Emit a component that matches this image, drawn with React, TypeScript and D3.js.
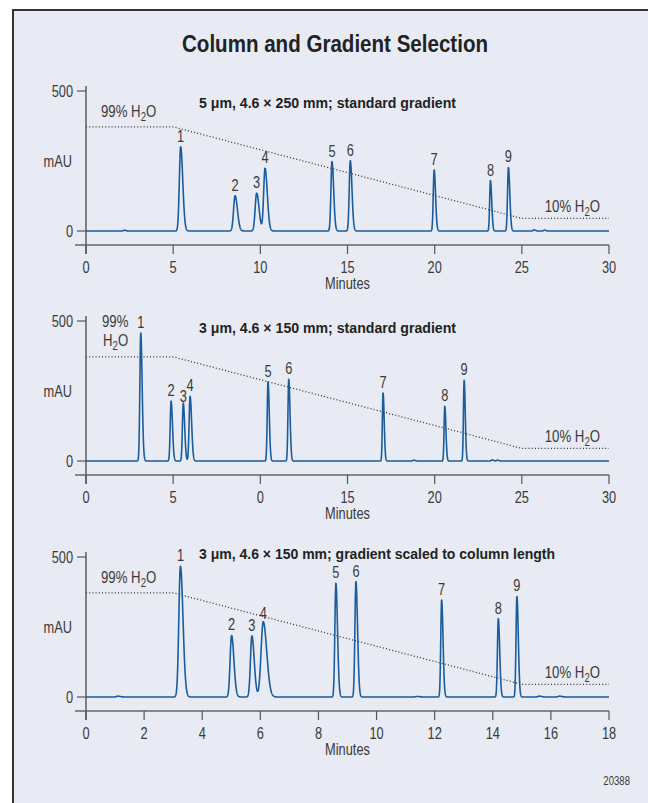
import React from "react";
import * as d3 from "d3";

const W = 648;
const H = 803;
const FONT = "'Liberation Sans', Arial, sans-serif";
const BLUE = "#1b5c9d";
const INK = "#3a3a3a";

const peakNumbers = ["1", "2", "3", "4", "5", "6", "7", "8", "9"];

// panel 1: 5 um, 250 mm, standard gradient
const p1Times = [5.43, 8.55, 9.79, 10.27, 14.11, 15.16, 19.97, 23.2, 24.23];
const p1Heights = [301, 126, 135, 224, 248, 251, 218, 180, 227];
const p1Sigmas = [0.075, 0.085, 0.085, 0.08, 0.06, 0.06, 0.05, 0.045, 0.05];
const p1MinorTimes = [2.2, 25.7, 26.3];
const p1MinorHeights = [3, 4, 3];
const p1GradTimes = [0, 5, 25, 30];
const p1GradH2O = [99, 99, 10, 10];
const p1TickValues = [0, 5, 10, 15, 20, 25, 30];
const p1TickLabels = ["0", "5", "10", "15", "20", "25", "30"];

// panel 2: 3 um, 150 mm, standard gradient
const p2Times = [3.14, 4.88, 5.58, 5.97, 10.44, 11.63, 17.04, 20.58, 21.69];
const p2Heights = [457, 214, 207, 231, 282, 292, 243, 195, 288];
const p2Sigmas = [0.05, 0.05, 0.05, 0.055, 0.045, 0.045, 0.04, 0.04, 0.04];
const p2MinorTimes = [18.8, 23.3, 23.6];
const p2MinorHeights = [3, 4, 3];
const p2GradTimes = [0, 5, 25, 30];
const p2GradH2O = [99, 99, 10, 10];
const p2TickValues = [0, 5, 10, 15, 20, 25, 30];
const p2TickLabels = ["0", "5", "0", "15", "20", "25", "30"];

// panel 3: 3 um, 150 mm, scaled gradient
const p3Times = [3.25, 5.01, 5.71, 6.1, 8.6, 9.29, 12.24, 14.19, 14.83];
const p3Heights = [467, 220, 218, 269, 406, 412, 346, 280, 359];
const p3Sigmas = [0.055, 0.05, 0.05, 0.075, 0.035, 0.035, 0.03, 0.03, 0.03];
const p3MinorTimes = [1.1, 11.4, 15.6, 16.3];
const p3MinorHeights = [3, 2, 3, 3];
const p3GradTimes = [0, 3, 15, 18];
const p3GradH2O = [99, 99, 10, 10];
const p3TickValues = [0, 2, 4, 6, 8, 10, 12, 14, 16, 18];
const p3TickLabels = ["0", "2", "4", "6", "8", "10", "12", "14", "16", "18"];

const TAIL = 1.6;

function buildTrace(times: number[], heights: number[], sigmas: number[], minorT: number[], minorH: number[], xMax: number) {
  const all = times.map((t, i) => ({ t, h: heights[i], s: sigmas[i] }))
    .concat(minorT.map((t, i) => ({ t, h: minorH[i], s: 0.05 })));
  const n = 4000;
  const pts: [number, number][] = [];
  for (let i = 0; i <= n; i++) {
    const t = (xMax * i) / n;
    let v = 0;
    all.forEach(p => {
      const s = t < p.t ? p.s : p.s * TAIL;
      v += p.h * Math.exp(-0.5 * ((t - p.t) / s) ** 2);
    });
    pts.push([t, v]);
  }
  return pts;
}

// condensed-looking text: Liberation Sans squeezed horizontally
const T = ({ x, y, anchor = "start", size = 16, weight = "normal", fill = INK, dy, children }: any) => (
  <text transform={`translate(${x},${y}) scale(0.8,1)`} textAnchor={anchor} dy={dy}
    fontFamily={FONT} fontSize={size} fontWeight={weight} fill={fill}>
    {children}
  </text>
);

const H2O = ({ x, y, text, anchor = "start" }: { x: number; y: number; text: string; anchor?: string }) => (
  <T x={x} y={y} anchor={anchor} size={16.5}>
    {text}H<tspan dy={4} fontSize={12}>2</tspan><tspan dy={-4}>O</tspan>
  </T>
);

function Panel(props: any) {
  const { top, xMax, times, heights, sigmas, minorT, minorH, gradT, gradH, tickValues, tickLabels, title, titleY, titleW, labelDy = [], twoLineLabel } = props;
  const x = d3.scaleLinear().domain([0, xMax]).range([86, 609]);
  const y = d3.scaleLinear().domain([0, 500]).range([top + 140, top]);
  const g = d3.scaleLinear().domain([10, 99]).range([y(45), y(372)]);
  const axisY = y(0) + 14;

  const trace = buildTrace(times, heights, sigmas, minorT, minorH, xMax);
  const line = d3.line<[number, number]>().x(d => x(d[0])).y(d => y(d[1]));
  const gradLine = d3.line<number>().x((d, i) => x(gradT[i])).y(d => g(d));

  return (
    <g>
      {/* axes */}
      <line x1={86} x2={86} y1={top - 5} y2={axisY + 9} stroke="#555" strokeWidth={1.4} />
      <line x1={75} x2={609} y1={axisY} y2={axisY} stroke="#666" strokeWidth={1.6} />
      {[0, 500].map(v => (
        <g key={v}>
          <line x1={77} x2={86} y1={y(v)} y2={y(v)} stroke="#555" strokeWidth={1.2} />
          <T x={73} y={y(v)} dy="0.36em" anchor="end">{v}</T>
        </g>
      ))}
      <T x={72} y={y(250)} dy="0.36em" anchor="end">mAU</T>
      {tickValues.map((v: number, i: number) => (
        <g key={v}>
          <line x1={x(v)} x2={x(v)} y1={axisY} y2={axisY + 9} stroke="#555" strokeWidth={1.2} />
          <T x={x(v)} y={axisY + 28} anchor="middle">{tickLabels[i]}</T>
        </g>
      ))}
      <T x={x(xMax / 2)} y={axisY + 44} anchor="middle">Minutes</T>

      {/* gradient */}
      <path d={gradLine(gradH) || ""} fill="none" stroke="#333" strokeWidth={1.3} strokeDasharray="1 2.2" />
      {twoLineLabel ? (
        <g>
          <T x={102} y={top + 6} size={16.5}>99%</T>
          <H2O x={103} y={top + 25} text="" />
        </g>
      ) : (
        <H2O x={101} y={g(99) - 10} text="99% " />
      )}
      <H2O x={600} y={y(0) - 19} text="10% " anchor="end" />

      {/* chromatogram */}
      <path d={line(trace) || ""} fill="none" stroke={BLUE} strokeWidth={1.6} strokeLinejoin="round" />
      {times.map((t: number, i: number) => (
        <T key={i} x={x(t)} y={y(heights[i]) - 5 + (labelDy[i] || 0)} anchor="middle">
          {peakNumbers[i]}
        </T>
      ))}

      <text x={199} y={titleY} fontFamily={FONT} fontSize={15} fontWeight="bold" fill="#222"
        textLength={titleW} lengthAdjust="spacingAndGlyphs">{title}</text>
    </g>
  );
}

export default function App() {
  return (
    <svg width={W} height={H} style={{ position: "absolute", left: 0, top: 0 }}>
      <rect x={0} y={0} width={W} height={H} fill="#fff" />
      <rect x={13} y={10} width={W + 20} height={H + 20} fill="#e8ebf3" stroke="#333" strokeWidth={2} />
      <text x={182} y={52} fontFamily={FONT} fontSize={23} fontWeight="bold" fill="#222"
        textLength={306} lengthAdjust="spacingAndGlyphs">
        Column and Gradient Selection
      </text>
      <Panel top={91} xMax={30} times={p1Times} heights={p1Heights} sigmas={p1Sigmas}
        minorT={p1MinorTimes} minorH={p1MinorHeights} gradT={p1GradTimes} gradH={p1GradH2O}
        tickValues={p1TickValues} tickLabels={p1TickLabels}
        title="5 μm, 4.6 × 250 mm; standard gradient" titleY={108} titleW={257} />
      <Panel top={321} xMax={30} times={p2Times} heights={p2Heights} sigmas={p2Sigmas}
        minorT={p2MinorTimes} minorH={p2MinorHeights} gradT={p2GradTimes} gradH={p2GradH2O}
        tickValues={p2TickValues} tickLabels={p2TickLabels} labelDy={[0, 0, 4, 0]} twoLineLabel
        title="3 μm, 4.6 × 150 mm; standard gradient" titleY={333} titleW={257} />
      <Panel top={557} xMax={18} times={p3Times} heights={p3Heights} sigmas={p3Sigmas}
        minorT={p3MinorTimes} minorH={p3MinorHeights} gradT={p3GradTimes} gradH={p3GradH2O}
        tickValues={p3TickValues} tickLabels={p3TickLabels} labelDy={[0, 0, 0, 2]}
        title="3 μm, 4.6 × 150 mm; gradient scaled to column length" titleY={559} titleW={356} />
      <T x={630} y={785} anchor="end" size={12}>20388</T>
    </svg>
  );
}
